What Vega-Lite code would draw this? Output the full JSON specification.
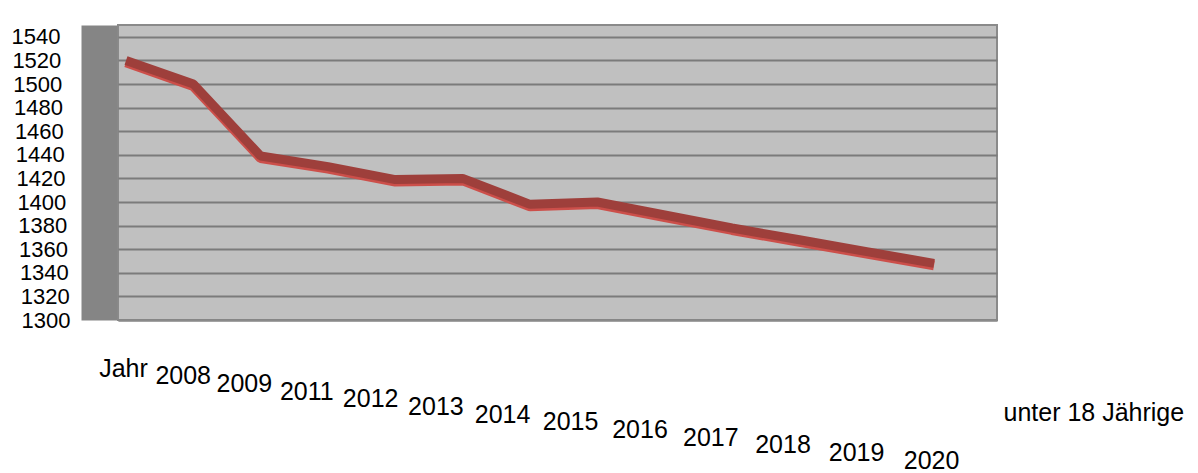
{
  "$schema": "https://vega.github.io/schema/vega-lite/v6.json",
  "width": 879,
  "height": 295,
  "autosize": {"type": "none"},
  "padding": {"left": 118, "top": 25, "right": 201, "bottom": 153},
  "background": "white",
  "config": {
    "view": {"fill": "#c0c0c0", "stroke": "#8a8a8a", "strokeWidth": 2},
    "font": "Liberation Sans"
  },
  "data": {
    "values": [
      {"Kategorie": "Jahr", "Anzahl": 1520},
      {"Kategorie": "2008", "Anzahl": 1500},
      {"Kategorie": "2009", "Anzahl": 1439},
      {"Kategorie": "2011", "Anzahl": 1430},
      {"Kategorie": "2012", "Anzahl": 1419},
      {"Kategorie": "2013", "Anzahl": 1420},
      {"Kategorie": "2014", "Anzahl": 1398},
      {"Kategorie": "2015", "Anzahl": 1400},
      {"Kategorie": "2016", "Anzahl": 1389},
      {"Kategorie": "2017", "Anzahl": 1378},
      {"Kategorie": "2018", "Anzahl": 1368},
      {"Kategorie": "2019", "Anzahl": 1358},
      {"Kategorie": "2020", "Anzahl": 1348}
    ]
  },
  "encoding": {
    "x": {
      "field": "Kategorie",
      "type": "ordinal",
      "sort": null,
      "scale": {"type": "point", "padding": 0.527, "align": 0.113},
      "axis": {
        "title": "unter 18 Jährige",
        "titleX": 885,
        "titleY": 92,
        "titleAlign": "left",
        "titleBaseline": "middle",
        "titleFontSize": 25,
        "titleFontWeight": "normal",
        "titleColor": "black",
        "titleFont": "Liberation Sans",
        "labelAngle": 0,
        "labelFontSize": 25,
        "labelColor": "black",
        "labelBaseline": "middle",
        "labelAlign": "center",
        "labelPadding": {"expr": "48 + 92*datum.index"},
        "labelOffset": {"expr": "-3 - 100*datum.index*(1-datum.index)"},
        "ticks": false,
        "tickSize": 0,
        "domainColor": "#8a8a8a",
        "domainWidth": 2,
        "grid": false,
        "labelOverlap": false,
        "labelBound": false,
        "labelFlush": false
      }
    },
    "y": {
      "field": "Anzahl",
      "type": "quantitative",
      "scale": {"domain": [1300, 1550], "nice": false, "zero": false},
      "axis": {
        "title": null,
        "format": "d",
        "values": [1300, 1320, 1340, 1360, 1380, 1400, 1420, 1440, 1460, 1480, 1500, 1520, 1540],
        "offset": 19,
        "domainWidth": 36,
        "domainColor": "#858585",
        "ticks": false,
        "tickSize": 0,
        "labelFontSize": 22,
        "labelColor": "black",
        "labelAlign": "right",
        "labelBaseline": "middle",
        "labelPadding": {"expr": "29 + (datum.value - 1300)/24"},
        "grid": true,
        "gridColor": "#7b7b7b",
        "gridWidth": 2,
        "labelOverlap": false,
        "labelBound": false,
        "labelFlush": false
      }
    }
  },
  "layer": [
    {"mark": {"type": "line", "color": "#cc4f4a", "strokeWidth": 10, "yOffset": 2, "strokeJoin": "bevel", "strokeCap": "butt"}},
    {"mark": {"type": "line", "color": "#9e3f3b", "strokeWidth": 9, "strokeJoin": "bevel", "strokeCap": "butt"}}
  ]
}
